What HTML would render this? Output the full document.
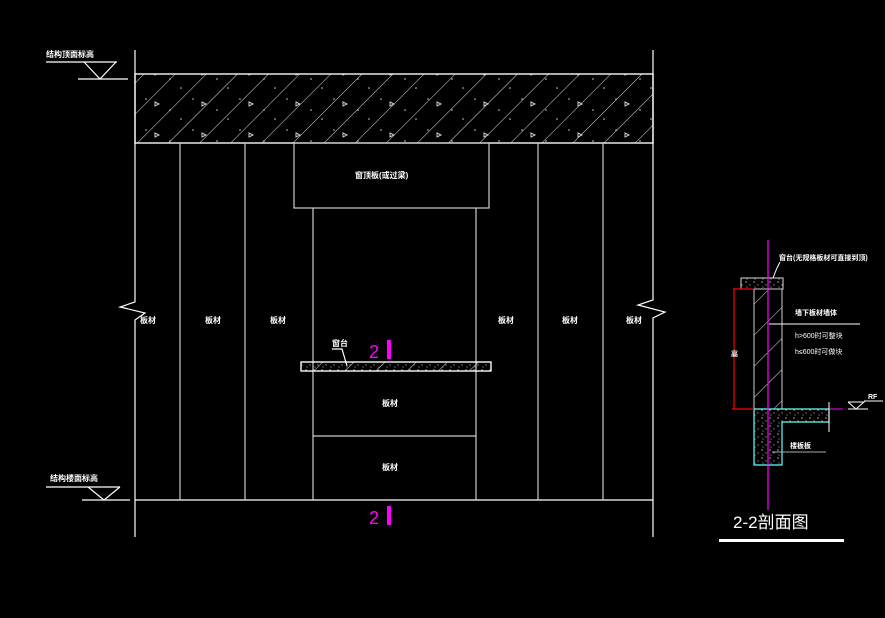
<!DOCTYPE html><html><head><meta charset="utf-8"><style>html,body{margin:0;padding:0;background:#000}svg{display:block}text{font-family:"Liberation Sans","Noto Sans CJK SC",sans-serif;fill:#fff}</style></head><body>
<svg width="885" height="618" xmlns="http://www.w3.org/2000/svg">
<defs>
<pattern id="h" width="22" height="22" patternUnits="userSpaceOnUse" patternTransform="rotate(45)"><line x1="0" y1="0" x2="0" y2="22" stroke="#ddd" stroke-width="1"/></pattern>
<pattern id="d" width="47" height="31" patternUnits="userSpaceOnUse"><circle cx="5" cy="6" r="0.8" fill="#ccc"/><circle cx="29" cy="17" r="0.8" fill="#ccc"/><path d="M14 9l4 2-4 2z" fill="none" stroke="#ccc"/><circle cx="40" cy="26" r="0.8" fill="#ccc"/></pattern>
<pattern id="s" width="8" height="8" patternUnits="userSpaceOnUse"><circle cx="2" cy="2" r="0.8" fill="#aaa"/><circle cx="6" cy="5" r="0.7" fill="#888"/><circle cx="3" cy="7" r="0.6" fill="#999"/></pattern>
</defs>
<g stroke="#fff" fill="none" stroke-width="1.2">
<polyline points="135,50 135,302 120,307 145,313 135,320 135,537"/>
<polyline points="653,50 653,300 638,305 665,312 653,318 653,537"/>
<rect x="135" y="74" width="518" height="69" fill="url(#h)"/>
<rect x="135" y="74" width="518" height="69" fill="url(#d)"/>
<line x1="135" y1="500" x2="653" y2="500"/>
<g stroke="#ccc"><line x1="180" y1="143" x2="180" y2="500"/><line x1="245" y1="143" x2="245" y2="500"/><line x1="538" y1="143" x2="538" y2="500"/><line x1="603" y1="143" x2="603" y2="500"/>
<rect x="294" y="143" width="195" height="65"/>
<line x1="313" y1="208" x2="313" y2="500"/><line x1="476" y1="208" x2="476" y2="500"/>
<line x1="313" y1="436" x2="476" y2="436"/></g>
<rect x="301" y="362" width="190" height="9" fill="url(#h)"/>
<rect x="301" y="362" width="190" height="9" fill="url(#s)"/>
<polyline points="332,349 342,349 347,366"/>
<line x1="46" y1="62" x2="117" y2="62"/><polyline points="84,62 100,79 116,62"/><line x1="78" y1="79" x2="128" y2="79"/>
<line x1="46" y1="487" x2="120" y2="487"/><polyline points="88,487 104,500 120,487"/><line x1="82" y1="500" x2="130" y2="500"/>
</g>
<g font-size="8" font-weight="bold">
<text x="46" y="57">结构顶面标高</text><text x="50" y="481">结构楼面标高</text>
<text x="140" y="323">板材</text><text x="205" y="323">板材</text><text x="270" y="323">板材</text>
<text x="498" y="323">板材</text><text x="562" y="323">板材</text><text x="626" y="323">板材</text>
<text x="382" y="406">板材</text><text x="382" y="470">板材</text>
<text x="332" y="346">窗台</text><text x="355" y="178">窗顶板(或过梁)</text>
</g>
<g fill="#f0f">
<text x="369" y="358" font-size="18" style="fill:#f0f">2</text><rect x="387" y="340" width="4" height="19"/>
<text x="369" y="524" font-size="18" style="fill:#f0f">2</text><rect x="387" y="506" width="4" height="19"/>
</g>
<rect x="741" y="278" width="42" height="11" fill="url(#s)" stroke="#ddd"/>
<rect x="754" y="289" width="28" height="120" fill="url(#h)" stroke="#ccc"/>
<polygon points="754,409 829,409 829,422 782,422 782,465 754,465" fill="url(#s)" stroke="#6ff" stroke-width="1.2"/>
<g stroke="#f00" stroke-width="1.2"><line x1="734" y1="289" x2="734" y2="409"/><line x1="733" y1="289" x2="754" y2="289"/><line x1="732" y1="409" x2="754" y2="409"/></g>
<line x1="768" y1="240" x2="768" y2="510" stroke="#f0f" stroke-width="1.2"/>
<line x1="829" y1="409" x2="843" y2="409" stroke="#f0f"/>
<g stroke="#fff" fill="none"><line x1="769" y1="324" x2="860" y2="324"/><polyline points="773,278 777,268 780,262"/><line x1="829" y1="402" x2="829" y2="432"/><line x1="848" y1="409" x2="868" y2="409"/><polyline points="848,402 856,409 864,402 848,402"/><line x1="864" y1="401" x2="883" y2="401"/><line x1="772" y1="452" x2="826" y2="452" stroke="#aaa"/></g>
<g font-size="7" font-weight="bold"><text x="779" y="260">窗台(无规格板材可直接到顶)</text><text x="795" y="315">墙下板材墙体</text><text x="795" y="338" font-weight="normal">h&gt;600时可整块</text><text x="795" y="354" font-weight="normal">h≤600时可做块</text><text x="790" y="448">楼板板</text><text x="868" y="399">RF</text><text x="731" y="356">高</text></g>
<text x="733" y="528" font-size="17">2-2剖面图</text>
<rect x="719" y="539" width="125" height="3" fill="#fff"/>
</svg></body></html>
